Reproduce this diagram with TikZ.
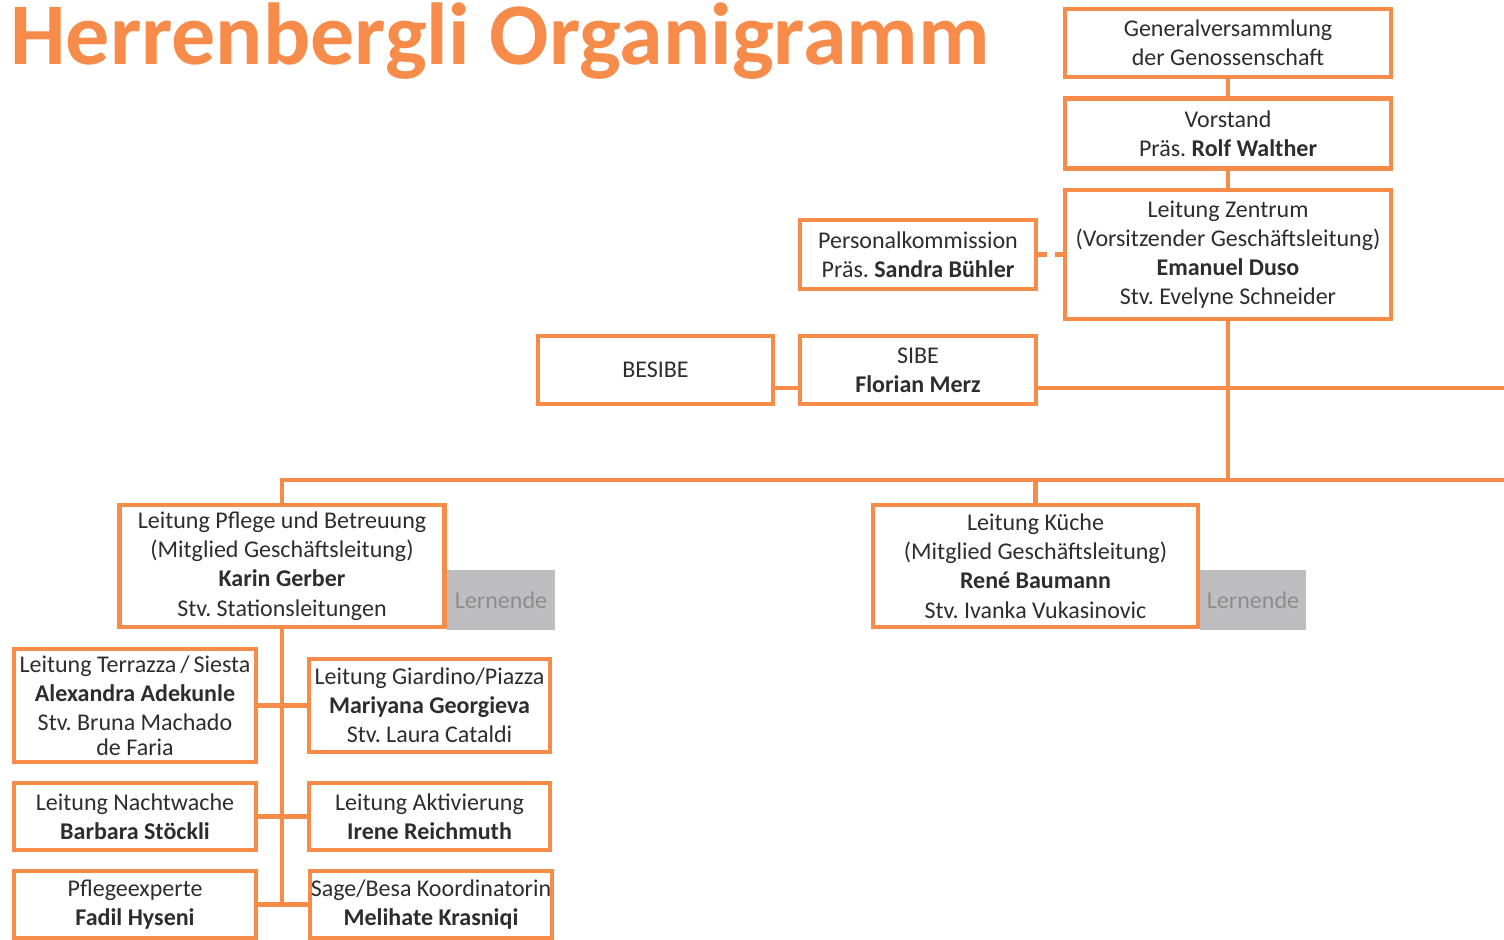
\documentclass[tikz,border=0pt]{standalone}
\usepackage{fontspec}
\setmainfont{Carlito}
\usetikzlibrary{positioning,calc}
\definecolor{orgorange}{RGB}{246,139,74}
\definecolor{lerngray}{RGB}{190,190,192}
\definecolor{textdark}{RGB}{45,45,45}
\frenchspacing

\begin{document}
\begin{tikzpicture}[
  x=0.5pt, y=-0.5pt,
  box/.style={rectangle, draw=orgorange, line width=2.2pt, fill=white, inner sep=0pt,
              font=\fontsize{12}{14.6}\selectfont, text=textdark, align=center},
  lern/.style={rectangle, fill=lerngray, inner sep=0pt, font=\fontsize{12}{14.6}\selectfont,
               text=black!45},
  link/.style={draw=orgorange, line width=2.2pt},
  title/.style={font=\fontsize{44}{50}\selectfont\bfseries, text=orgorange, inner sep=0pt},
]
\useasboundingbox (0,0) rectangle (1504,939);

\node[title, anchor=base west] (titel) at (10,64) {Herrenbergli Organigramm};

\node[box, minimum width=163pt, minimum height=34pt] (gv) at (1228,43)
  {Generalversammlung\\der Genossenschaft};
\node[box, minimum width=163pt, minimum height=35pt] (vorstand) at (1228,133.5)
  {Vorstand\\Präs. \textbf{Rolf Walther}};
\node[box, minimum width=163pt, minimum height=64.5pt] (zentrum) at (1228,254.5)
  {Leitung Zentrum\\(Vorsitzender Geschäftsleitung)\\\textbf{Emanuel Duso}\\Stv. Evelyne Schneider};
\node[box, minimum width=118pt, minimum height=34.5pt] (pk) at (918,254.5)
  {Personalkommission\\Präs. \textbf{Sandra Bühler}};
\node[box, minimum width=117.5pt, minimum height=34pt] (besibe) at (655.5,370) {BESIBE};
\node[box, minimum width=118pt, minimum height=34pt] (sibe) at (918,370)
  {SIBE\\\textbf{Florian Merz}};

\node[lern, minimum width=54pt, minimum height=30pt] (lernpflege) at (501,600) {Lernende};
\node[lern, minimum width=53pt, minimum height=30pt] (lernkueche) at (1253,600) {Lernende};

\node[box, minimum width=162.5pt, minimum height=61pt] (pflege) at (282,566)
  {Leitung Pflege und Betreuung\\(Mitglied Geschäftsleitung)\\\textbf{Karin Gerber}\\Stv. Stationsleitungen};
\node[box, minimum width=162.5pt, minimum height=61pt] (kueche) at (1035.5,566)
  {Leitung Küche\\(Mitglied Geschäftsleitung)\\\textbf{René Baumann}\\Stv. Ivanka Vukasinovic};

\node[box, minimum width=121pt, minimum height=56.5pt] (terrazza) at (135,705.5)
  {Leitung Terrazza\,/\,Siesta\\\textbf{Alexandra Adekunle}\\Stv. Bruna Machado\\[-2.5pt]de Faria};
\node[box, minimum width=120.5pt, minimum height=46.5pt] (giardino) at (429.5,705.5)
  {Leitung Giardino/Piazza\\\textbf{Mariyana Georgieva}\\Stv. Laura Cataldi};
\node[box, minimum width=121pt, minimum height=33.5pt] (nachtwache) at (135,816.5)
  {Leitung Nachtwache\\\textbf{Barbara Stöckli}};
\node[box, minimum width=120.5pt, minimum height=33.5pt] (aktivierung) at (429.5,816.5)
  {Leitung Aktivierung\\\textbf{Irene Reichmuth}};
\node[box, minimum width=121pt, minimum height=33.5pt] (experte) at (135,904.5)
  {Pflegeexperte\\\textbf{Fadil Hyseni}};
\node[box, minimum width=121pt, minimum height=33.5pt] (sagebesa) at (431,904.5)
  {Sage/Besa Koordinatorin\\\textbf{Melihate Krasniqi}};

\coordinate (rsibe) at (1504,388);
\coordinate (rbus) at (1504,480);

\draw[link] (gv) -- (vorstand);
\draw[link] (vorstand) -- (zentrum);
\draw[link, dash pattern=on 4.5pt off 4pt] (pk) -- (zentrum);
\draw[link] (zentrum) -- (zentrum.south |- rbus);
\draw[link] (sibe.east |- rsibe) -- (rsibe);
\draw[link] (besibe.east |- rsibe) -- (sibe.west |- rsibe);
\draw[link] (rbus) -| (pflege);
\draw[link] (kueche.north |- rbus) -- (kueche);
\draw[link] (pflege) -- (pflege.south |- experte);
\draw[link] (terrazza) -- (giardino);
\draw[link] (nachtwache) -- (aktivierung);
\draw[link] (experte) -- (sagebesa);

\end{tikzpicture}
\end{document}
